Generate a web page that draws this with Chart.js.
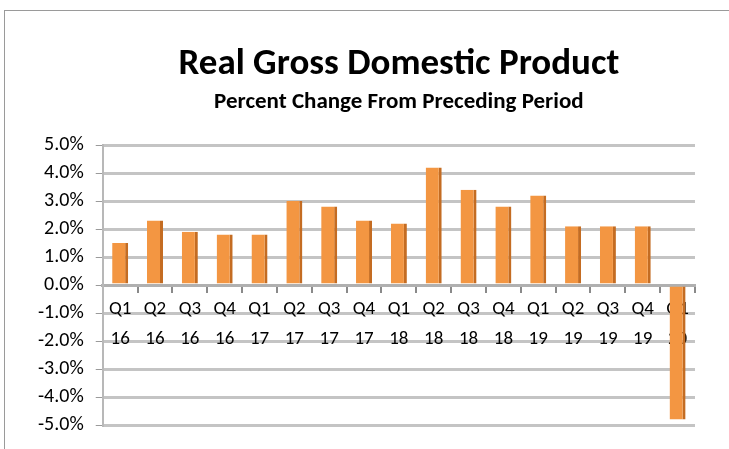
<!DOCTYPE html>
<html>
<head>
<meta charset="utf-8">
<script src="https://cdn.jsdelivr.net/npm/chart.js@4.4.0/dist/chart.umd.min.js"></script>
<style>
  html, body { margin: 0; padding: 0; background: #fff; overflow: hidden; }
  #frame {
    position: absolute; left: 4px; top: 10px; width: 900px; height: 600px;
    border-left: 1px solid #9a9a9a; border-top: 1px solid #9a9a9a;
  }
  #wrap { position: absolute; left: 0; top: 0; width: 729px; height: 449px; }
</style>
</head>
<body>
<div id="frame"></div>
<div id="wrap"><canvas id="gdpChart"></canvas></div>
<script>
// quarters and the GDP change
const quarters = ['Q1', 'Q2', 'Q3', 'Q4', 'Q1', 'Q2', 'Q3', 'Q4', 'Q1', 'Q2', 'Q3', 'Q4', 'Q1', 'Q2', 'Q3', 'Q4', 'Q1'];
const years = ['16', '16', '16', '16', '17', '17', '17', '17', '18', '18', '18', '18', '19', '19', '19', '19', '20'];
const gdpChange = [1.5, 2.3, 1.9, 1.8, 1.8, 3.0, 2.8, 2.3, 2.2, 4.2, 3.4, 2.8, 3.2, 2.1, 2.1, 2.1, -4.8];

const labels = quarters.map((q, i) => [q, years[i]]);
const fontFamily = "Carlito, 'Open Sans', sans-serif";

const data = {
    labels: labels,
    datasets: [{
        backgroundColor: '#F39642',
        borderColor: '#C46C22',
        borderWidth: { left: 0, top: 0, bottom: 0, right: 3 },
        borderSkipped: false,
        barPercentage: 0.46,
        categoryPercentage: 1.0,
        data: gdpChange,
    }]
};

const config = {
    type: 'bar',
    data: data,
    options: {
        responsive: true,
        maintainAspectRatio: false,
        animation: false,
        layout: {
            padding: { left: 26, right: 34, top: 43, bottom: 3 }
        },
        plugins: {
            legend: { display: false },
            tooltip: { enabled: false },
            title: {
                display: true,
                fullSize: false,
                text: 'Real Gross Domestic Product',
                color: '#000',
                font: { family: fontFamily, size: 37, weight: 'bold' },
                padding: { top: 0, bottom: 1 }
            },
            subtitle: {
                display: true,
                fullSize: false,
                text: 'Percent Change From Preceding Period',
                color: '#000',
                font: { family: fontFamily, size: 23, weight: 'bold' },
                padding: { top: 0, bottom: 29 }
            }
        },
        scales: {
            x: {
                position: { y: 0 },
                z: 1,
                grid: {
                    drawOnChartArea: false,
                    drawTicks: true,
                    tickLength: 6,
                    color: '#8a8a8a',
                    lineWidth: 2
                },
                border: { display: true, color: '#b0b0b0', width: 3 },
                ticks: {
                    color: '#000',
                    font: { family: fontFamily, size: 19, lineHeight: 1.55 },
                    padding: 4,
                    maxRotation: 0,
                    autoSkip: false
                }
            },
            y: {
                min: -5,
                max: 5,
                grid: {
                    color: '#c4c4c4',
                    lineWidth: 3,
                    tickLength: 7,
                    tickColor: '#9a9a9a',
                    tickWidth: 1
                },
                border: { display: true, color: '#b8b8b8', width: 2 },
                ticks: {
                    stepSize: 1,
                    autoSkip: false,
                    color: '#000',
                    padding: 12,
                    font: { family: fontFamily, size: 20 },
                    callback: value => value.toFixed(1) + '%'
                }
            }
        }
    }
};

const gdpChart = new Chart(
    document.getElementById('gdpChart'),
    config
);
</script>
</body>
</html>
